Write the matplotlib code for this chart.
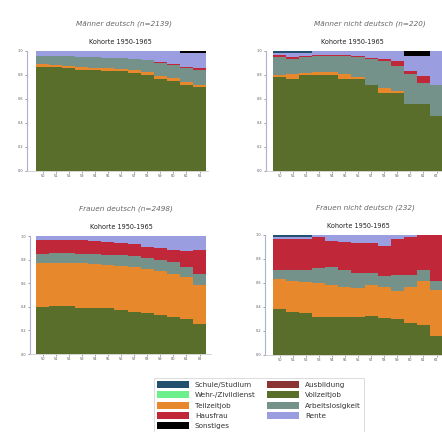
import matplotlib
matplotlib.use('Agg')
import matplotlib.pyplot as plt
from matplotlib.patches import Patch
import numpy as np

# Alter (x-Achse)
alter = ['50', '51', '52', '53', '54', '55', '56', '57', '58', '59', '60', '61', '62']

# Maenner deutsch (n=2139)
voll_md = [0.87, 0.865, 0.855, 0.845, 0.84, 0.835, 0.83, 0.82, 0.80, 0.77, 0.75, 0.72, 0.70]
teil_md = [0.02, 0.02, 0.02, 0.02, 0.02, 0.02, 0.02, 0.02, 0.025, 0.025, 0.025, 0.025, 0.02]
arbl_md = [0.07, 0.075, 0.08, 0.085, 0.09, 0.09, 0.095, 0.095, 0.10, 0.105, 0.11, 0.115, 0.125]
haus_md = [0, 0, 0, 0, 0, 0, 0, 0, 0, 0.01, 0.01, 0.01, 0.01]
rente_md = [0.04, 0.04, 0.045, 0.05, 0.05, 0.055, 0.055, 0.065, 0.075, 0.09, 0.105, 0.115, 0.13]
sonst_md = [0, 0, 0, 0, 0, 0, 0, 0, 0, 0, 0, 0.015, 0.015]
schule_md = [0, 0, 0, 0, 0, 0, 0, 0, 0, 0, 0, 0, 0]

# Maenner nicht deutsch (n=220)
voll_mn = [0.78, 0.77, 0.80, 0.80, 0.80, 0.77, 0.77, 0.72, 0.65, 0.65, 0.56, 0.56, 0.46]
teil_mn = [0.02, 0.04, 0.02, 0.025, 0.025, 0.04, 0.01, 0, 0.04, 0.02, 0, 0, 0]
arbl_mn = [0.15, 0.12, 0.13, 0.135, 0.135, 0.15, 0.17, 0.21, 0.23, 0.205, 0.25, 0.17, 0.26]
haus_mn = [0.015, 0.02, 0.01, 0.01, 0.01, 0.01, 0.01, 0.015, 0.015, 0.04, 0.025, 0.06, 0]
rente_mn = [0.015, 0.03, 0.02, 0.03, 0.03, 0.03, 0.04, 0.055, 0.065, 0.085, 0.125, 0.17, 0.28]
sonst_mn = [0, 0, 0, 0, 0, 0, 0, 0, 0, 0, 0.04, 0.04, 0]
schule_mn = [0.02, 0.02, 0.02, 0, 0, 0, 0, 0, 0, 0, 0, 0, 0]

# Frauen deutsch (n=2498)
voll_fd = [0.40, 0.405, 0.41, 0.39, 0.39, 0.39, 0.375, 0.36, 0.345, 0.33, 0.315, 0.30, 0.255]
teil_fd = [0.37, 0.37, 0.365, 0.38, 0.37, 0.365, 0.37, 0.375, 0.375, 0.37, 0.365, 0.35, 0.33]
arbl_fd = [0.08, 0.08, 0.08, 0.08, 0.09, 0.085, 0.09, 0.095, 0.095, 0.10, 0.10, 0.09, 0.095]
haus_fd = [0.12, 0.115, 0.11, 0.115, 0.105, 0.11, 0.105, 0.10, 0.095, 0.095, 0.10, 0.135, 0.20]
rente_fd = [0.03, 0.03, 0.035, 0.035, 0.045, 0.05, 0.06, 0.07, 0.09, 0.105, 0.12, 0.125, 0.12]
sonst_fd = [0, 0, 0, 0, 0, 0, 0, 0, 0, 0, 0, 0, 0]
schule_fd = [0, 0, 0, 0, 0, 0, 0, 0, 0, 0, 0, 0, 0]

# Frauen nicht deutsch (232)
voll_fn = [0.38, 0.36, 0.35, 0.32, 0.315, 0.32, 0.315, 0.325, 0.31, 0.30, 0.265, 0.25, 0.155]
teil_fn = [0.255, 0.26, 0.26, 0.28, 0.27, 0.25, 0.245, 0.26, 0.26, 0.23, 0.305, 0.365, 0.385]
arbl_fn = [0.07, 0.09, 0.10, 0.125, 0.145, 0.14, 0.12, 0.10, 0.085, 0.14, 0.095, 0.09, 0.075]
haus_fn = [0.26, 0.255, 0.255, 0.26, 0.22, 0.235, 0.255, 0.25, 0.255, 0.295, 0.315, 0.295, 0.385]
rente_fn = [0.015, 0.015, 0.015, 0.015, 0.05, 0.055, 0.065, 0.065, 0.09, 0.035, 0.02, 0, 0]
sonst_fn = [0, 0, 0, 0, 0, 0, 0, 0, 0, 0, 0, 0, 0]
schule_fn = [0.02, 0.02, 0.02, 0, 0, 0, 0, 0, 0, 0, 0, 0, 0]

# Farben der Zustaende
farben = {
    'Schule/Studium': '#24506f',
    'Wehr-/Zivildienst': '#6cf08c',
    'Teilzeitjob': '#e8882c',
    'Hausfrau': '#c0283a',
    'Sonstiges': '#000000',
    'Ausbildung': '#8a3434',
    'Vollzeitjob': '#5a6e2c',
    'Arbeitslosigkeit': '#74918a',
    'Rente': '#9a9ee0',
}

fig = plt.figure(figsize=(4.42, 4.32), dpi=100)
W, H = 442.0, 432.0


def panel(left, top, bottom, xstart, titel, titel_x, kohorte_x, schichten):
    breite = 181
    ax = fig.add_axes([left / W, 1 - bottom / H, breite / W, (bottom - top) / H])
    x = np.arange(len(alter))
    unten = np.zeros(len(alter))
    for name, werte in schichten:
        werte = np.array(werte)
        ax.bar(x, werte, width=1.0, bottom=unten, color=farben[name], linewidth=0)
        unten = unten + werte
    px = 13.08
    x0 = -0.5 - (xstart - left) / px
    ax.set_xlim(x0, x0 + breite / px)
    ax.set_ylim(0, 1)
    ax.set_xticks(x)
    ax.set_xticklabels(alter)
    ax.set_yticks([0, 0.2, 0.4, 0.6, 0.8, 1.0])
    ax.set_yticklabels(['0.0', '0.2', '0.4', '0.6', '0.8', '1.0'])
    ax.tick_params(labelsize=2.5, length=1.5, width=0.4, pad=1, colors='#555555')
    for s in ['top', 'right']:
        ax.spines[s].set_visible(False)
    ax.spines['left'].set_color('#aab4d0')
    ax.spines['left'].set_linewidth(0.8)
    ax.spines['bottom'].set_color('#cccccc')
    ax.spines['bottom'].set_linewidth(0.6)
    fig.text(titel_x / W, 1 - (top - 27) / H, titel, ha='center', va='center',
             fontsize=5.2, style='italic', color='#666666')
    fig.text(kohorte_x / W, 1 - (top - 9) / H, 'Kohorte 1950-1965', ha='center', va='center',
             fontsize=4.7, color='#222222')
    return ax


def schichten_von(voll, teil, arbl, haus, rente, sonst, schule):
    return [('Vollzeitjob', voll), ('Teilzeitjob', teil), ('Arbeitslosigkeit', arbl),
            ('Hausfrau', haus), ('Rente', rente), ('Sonstiges', sonst),
            ('Schule/Studium', schule)]


panel(27, 51, 171, 36, 'Männer deutsch (n=2139)', 124, 120,
      schichten_von(voll_md, teil_md, arbl_md, haus_md, rente_md, sonst_md, schule_md))
panel(266, 51, 171, 273, 'Männer nicht deutsch (n=220)', 370, 352,
      schichten_von(voll_mn, teil_mn, arbl_mn, haus_mn, rente_mn, sonst_mn, schule_mn))
panel(30, 236, 354, 36, 'Frauen deutsch (n=2498)', 126, 121,
      schichten_von(voll_fd, teil_fd, arbl_fd, haus_fd, rente_fd, sonst_fd, schule_fd))
panel(265, 235, 355, 273, 'Frauen nicht deutsch (232)', 365, 358,
      schichten_von(voll_fn, teil_fn, arbl_fn, haus_fn, rente_fn, sonst_fn, schule_fn))

# Legende: zwei Spalten, spaltenweise gefuellt
namen = ['Schule/Studium', 'Wehr-/Zivildienst', 'Teilzeitjob', 'Hausfrau', 'Sonstiges',
         'Ausbildung', 'Vollzeitjob', 'Arbeitslosigkeit', 'Rente']
griffe = [Patch(facecolor=farben[n], edgecolor='none') for n in namen]
leg = fig.legend(griffe, namen, ncol=2, loc='upper left',
                 bbox_to_anchor=(150 / W, 1 - 374 / H), fontsize=5.2,
                 handlelength=4.4, handleheight=1.1, labelspacing=0.45,
                 handletextpad=0.8, columnspacing=1.6, borderpad=0.5,
                 fancybox=False, frameon=True)
leg.get_frame().set_edgecolor('#cccccc')
leg.get_frame().set_linewidth(0.6)
for t in leg.get_texts():
    t.set_color('#333333')

fig.savefig('out.png', dpi=100)
